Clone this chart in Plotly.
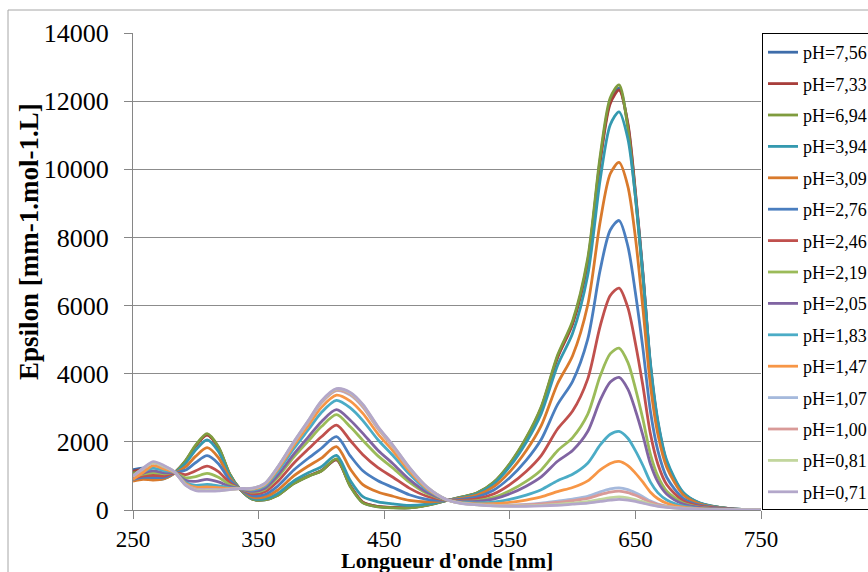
import plotly.graph_objects as go

wavelength = [250, 258, 266, 275, 283, 292, 300, 309, 318, 327, 335, 345, 355, 365, 378,
              390, 400, 412, 423, 433, 445, 457, 470, 484, 500, 512, 524, 537, 550, 563,
              575, 588, 600, 612, 622, 630, 637, 644, 650, 656, 662, 668, 675, 688, 701,
              725, 750]

ph_7_56 = [1180, 1230, 1080, 1000, 1100, 1450, 1890, 2220, 1840, 1050, 620, 320, 300, 430, 780,
           1000, 1150, 1480, 700, 220, 100, 70, 65, 140, 280, 380, 500, 800, 1350, 2100,
           3000, 4500, 5500, 7300, 10300, 12000, 12380, 11300, 9300, 6900, 4200, 2500, 1370, 490, 200,
           40, 10]
ph_7_33 = [1130, 1180, 1020, 980, 1100, 1440, 1880, 2200, 1830, 1045, 620, 322, 303, 435, 785,
           1005, 1155, 1470, 720, 230, 105, 75, 70, 145, 280, 378, 497, 795, 1340, 2085,
           2980, 4470, 5460, 7250, 10230, 11930, 12320, 11350, 9350, 6950, 4250, 2550, 1400, 500, 205,
           42, 10]
ph_6_94 = [1080, 1120, 960, 950, 1090, 1460, 1910, 2240, 1860, 1060, 625, 318, 297, 425, 775,
           995, 1145, 1500, 690, 210, 95, 65, 60, 135, 282, 385, 505, 810, 1365, 2120,
           3030, 4540, 5550, 7380, 10400, 12100, 12480, 11200, 9200, 6800, 4150, 2450, 1350, 480, 195,
           39, 10]
ph_3_94 = [880, 950, 900, 920, 1080, 1376, 1764, 2059, 1718, 1004, 625, 339, 328, 478, 852,
           1097, 1271, 1603, 862, 390, 239, 178, 135, 172, 281, 369, 479, 760, 1277, 1983,
           2830, 4243, 5186, 6881, 9707, 11309, 11687, 10900, 9200, 6900, 4300, 2600, 1450, 520, 210,
           40, 10]
ph_3_09 = [850, 900, 880, 920, 1070, 1275, 1581, 1828, 1540, 942, 625, 378, 387, 579, 1002,
           1300, 1523, 1859, 1200, 744, 528, 403, 281, 238, 284, 345, 436, 676, 1124, 1738,
           2476, 3706, 4530, 6008, 8471, 9869, 10200, 9500, 8000, 5900, 3650, 2200, 1250, 450, 185,
           36, 9]
ph_2_76 = [900, 960, 950, 960, 1080, 1173, 1395, 1594, 1360, 879, 626, 423, 455, 695, 1174,
           1533, 1812, 2152, 1588, 1150, 859, 661, 448, 314, 286, 319, 387, 580, 949, 1457,
           2070, 3092, 3778, 5007, 7054, 8218, 8496, 7744, 6377, 4736, 2892, 1728, 953, 345, 142,
           30, 8]
ph_2_46 = [930, 1000, 1020, 1000, 1090, 1039, 1151, 1287, 1124, 797, 627, 476, 534, 829, 1374,
           1804, 2148, 2493, 2039, 1623, 1244, 961, 642, 403, 290, 287, 330, 469, 746, 1131,
           1597, 2377, 2904, 3842, 5406, 6297, 6514, 5938, 4893, 3637, 2228, 1336, 742, 271, 112,
           24, 7]
ph_2_19 = [960, 1050, 1100, 1060, 1100, 946, 982, 1074, 960, 740, 628, 523, 604, 949, 1552,
           2044, 2448, 2797, 2441, 2043, 1588, 1228, 815, 482, 293, 260, 278, 370, 565, 840,
           1177, 1740, 2126, 2806, 3938, 4588, 4749, 4331, 3571, 2659, 1636, 987, 553, 205, 86,
           20, 6]
ph_2_05 = [960, 1080, 1150, 1090, 1100, 869, 841, 897, 823, 692, 628, 545, 638, 1007, 1639,
           2162, 2593, 2944, 2636, 2248, 1754, 1358, 899, 520, 294, 246, 254, 321, 477, 699,
           972, 1431, 1748, 2302, 3225, 3756, 3891, 3549, 2929, 2183, 1349, 817, 462, 173, 73,
           18, 6]
ph_1_83 = [980, 1120, 1230, 1150, 1110, 805, 724, 749, 710, 652, 629, 587, 701, 1115, 1799,
           2378, 2862, 3217, 2996, 2625, 2062, 1598, 1054, 591, 297, 221, 208, 232, 315, 438,
           595, 859, 1049, 1372, 1908, 2222, 2307, 2107, 1743, 1306, 818, 504, 293, 114, 50,
           13, 5]
ph_1_47 = [900, 1100, 1300, 1200, 1110, 775, 670, 681, 657, 634, 630, 611, 736, 1175, 1888,
           2498, 3011, 3369, 3197, 2835, 2234, 1732, 1141, 630, 298, 207, 182, 183, 224, 293,
           385, 541, 660, 853, 1175, 1367, 1425, 1303, 1083, 816, 523, 330, 199, 81, 37,
           11, 5]
ph_1_07 = [1000, 1200, 1380, 1260, 1120, 742, 610, 605, 599, 614, 630, 631, 767, 1227, 1966,
           2604, 3143, 3502, 3373, 3019, 2384, 1849, 1217, 665, 300, 195, 160, 139, 145, 166,
           201, 262, 319, 399, 531, 618, 651, 598, 503, 388, 263, 177, 116, 53, 25,
           9, 5]
ph_1_00 = [980, 1200, 1390, 1270, 1120, 735, 597, 589, 586, 609, 630, 634, 770, 1234, 1976,
           2617, 3159, 3518, 3395, 3042, 2403, 1863, 1226, 669, 300, 194, 157, 134, 135, 150,
           178, 227, 277, 342, 451, 524, 555, 510, 431, 334, 231, 158, 106, 49, 24,
           9, 5]
ph_0_81 = [1000, 1220, 1400, 1280, 1120, 727, 583, 572, 573, 605, 630, 638, 777, 1245, 1993,
           2640, 3188, 3548, 3434, 3083, 2436, 1889, 1243, 677, 300, 191, 152, 124, 117, 122,
           137, 166, 202, 243, 310, 360, 386, 356, 304, 240, 174, 124, 88, 43, 21,
           8, 5]
ph_0_71 = [1000, 1230, 1420, 1300, 1120, 720, 570, 555, 560, 600, 630, 640, 780, 1250, 2000,
           2650, 3200, 3560, 3450, 3100, 2450, 1900, 1250, 680, 300, 190, 150, 120, 110, 110,
           120, 140, 170, 200, 250, 290, 313, 290, 250, 200, 150, 110, 80, 40, 20,
           8, 5]

series_names = ["pH=7,56", "pH=7,33", "pH=6,94", "pH=3,94", "pH=3,09", "pH=2,76", "pH=2,46",
                "pH=2,19", "pH=2,05", "pH=1,83", "pH=1,47", "pH=1,07", "pH=1,00", "pH=0,81",
                "pH=0,71"]
series_values = [ph_7_56, ph_7_33, ph_6_94, ph_3_94, ph_3_09, ph_2_76, ph_2_46, ph_2_19,
                 ph_2_05, ph_1_83, ph_1_47, ph_1_07, ph_1_00, ph_0_81, ph_0_71]
series_colors = ["#3E6DAA", "#A83E3B", "#7F9C3E", "#3499AF", "#D97A2C", "#4A7EBF", "#C0504D",
                 "#9BBB59", "#8064A2", "#4BACC6", "#F79646", "#A5B9DC", "#D99A98", "#C2D69D",
                 "#B3A7CA"]

x_ticks = [250, 350, 450, 550, 650, 750]
y_ticks = [0, 2000, 4000, 6000, 8000, 10000, 12000, 14000]
x_title = "Longueur d'onde [nm]"
y_title = "Epsilon [mm-1.mol-1.L]"

FONT = "Liberation Serif"

fig = go.Figure()
for name, vals, col in zip(series_names, series_values, series_colors):
    fig.add_trace(go.Scatter(
        x=wavelength, y=vals, name=name, mode="lines", legendgroup=name,
        line=dict(color=col, width=2.8, shape="spline", smoothing=0.8),
    ))

W, H = 868, 572
L, R, T, B = 133, 107, 33, 62
pw, ph = W - L - R, H - T - B

fig.update_layout(
    width=W, height=H,
    margin=dict(l=L, r=R, t=T, b=B, autoexpand=False),
    paper_bgcolor="white", plot_bgcolor="white",
    font=dict(family=FONT, size=26, color="black"),
    showlegend=True,
    legend=dict(
        x=(762 - L) / pw, y=1.0, xanchor="left", yanchor="top",
        bordercolor="black", borderwidth=1, bgcolor="white",
        font=dict(family=FONT, size=18, color="black"),
        traceorder="grouped", tracegroupgap=5, itemwidth=30,
    ),
    xaxis=dict(
        range=[250, 750], tickvals=x_ticks, ticktext=[str(v) for v in x_ticks],
        showgrid=False, zeroline=False, showline=True, linecolor="#868686", linewidth=1,
        ticks="outside", ticklen=8, tickcolor="#868686",
        tickfont=dict(family=FONT, size=23),
    ),
    yaxis=dict(
        range=[0, 14000], tickvals=y_ticks, ticktext=[str(v) for v in y_ticks],
        showgrid=True, gridcolor="#8C8C8C", gridwidth=1,
        zeroline=False, showline=True, linecolor="#868686", linewidth=1,
        ticks="outside", ticklen=8, tickcolor="#868686", ticklabelstandoff=10,
        tickfont=dict(family=FONT, size=26),
    ),
    annotations=[
        dict(text=x_title, xref="paper", yref="paper",
             x=(447 - L) / pw, y=-(560 - (T + ph)) / ph, xanchor="center", yanchor="middle",
             showarrow=False, font=dict(family=FONT, size=22, weight="bold", color="black")),
        dict(text=y_title, xref="paper", yref="paper", textangle=-90,
             x=(29 - L) / pw, y=(T + ph - 242) / ph, xanchor="center", yanchor="middle",
             showarrow=False, font=dict(family=FONT, size=27, weight="bold", color="black")),
    ],
    shapes=[dict(type="rect", xref="paper", yref="paper",
                 x0=(8 - L) / pw, x1=2.0, y0=-1.0, y1=1 + (T - 10) / ph,
                 line=dict(color="#A6A6A6", width=1), fillcolor="rgba(0,0,0,0)", layer="below")],
)

fig.write_html("out.html")
